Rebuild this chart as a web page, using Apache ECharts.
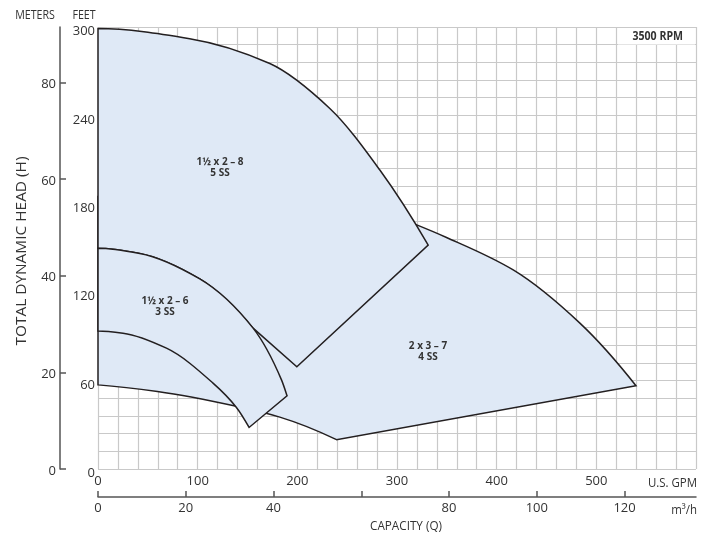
<!DOCTYPE html>
<html>
<head>
<meta charset="utf-8">
<script src="https://cdn.jsdelivr.net/npm/echarts@6/dist/echarts.min.js"></script>
<style>html,body{margin:0;padding:0;background:#fff}#c{width:714px;height:537px}</style>
</head>
<body>
<div id="c"></div>
<script>
// ---- axis ticks ----
const gpmTicks = [0, 100, 200, 300, 400, 500];
const m3hTicks = [0, 20, 40, 60, 80, 100, 120];
const m3hLabels = [0, 20, 40, 80, 100, 120];
const feetTicks = [0, 60, 120, 180, 240, 300];
const meterTicks = [0, 20, 40, 60, 80];

// ---- regions, points in (U.S. GPM, feet) ----
// 2 x 3 - 7, 4 SS
const c_bottom = [[0, 57.1], [59.6, 52.6], [139.9, 42.4], [182.4, 35.2], [239.3, 19.9]];
const c_right = [[539.8, 56.5]];
const c_top = [[539.8, 56.5], [483.5, 99.0], [416.6, 135.1], [349.7, 157.1], [318.5, 166.0]];
const c_hidden = [[250, 180], [0, 185]];

// 1 1/2 x 2 - 8, 5 SS
const a_top = [[0, 298.9], [92.0, 292.1], [172.4, 275.2], [232.6, 244.7], [282.8, 202.9], [331.3, 152.0]];
const a_lower = [[199.5, 69.4], [155.6, 95.6]];
const a_back = [[155.6, 95.6], [102.1, 129.0], [41.9, 146.3], [0, 149.8]];

// 1 1/2 x 2 - 6, 3 SS
const b_outer = [[0, 149.8], [41.9, 146.3], [102.1, 129.0], [155.6, 95.6], [184.1, 60.5], [189.7, 49.7]];
const b_bottom = [[151.6, 28.2]];
const b_inner = [[151.6, 28.2], [138.9, 41.8], [115.4, 58.3], [68.7, 82.0], [25.1, 92.2], [0, 93.7]];

const regionC = [{t: 'curve', p: c_bottom}, {t: 'line', p: c_right}, {t: 'curve', p: c_top}, {t: 'line', p: c_hidden}];
const regionA = [{t: 'curve', p: a_top}, {t: 'line', p: a_lower}, {t: 'curve', p: a_back}];
const regionB = [{t: 'curve', p: b_outer}, {t: 'line', p: b_bottom}, {t: 'curve', p: b_inner}];

const FILL = '#dfe9f6';
const STROKE = '#231f20';
const FONT = "'Open Sans', sans-serif";
const TXT = '#333';

// monotone cubic (in x) bezier path through pixel points
function monotoneBezier(px) {
  const n = px.length;
  if (n < 2) return '';
  const h = [], d = [];
  for (let k = 0; k < n - 1; k++) {
    h.push(px[k + 1][0] - px[k][0]);
    d.push((px[k + 1][1] - px[k][1]) / h[k]);
  }
  const m = new Array(n);
  if (n === 2) { m[0] = m[1] = d[0]; }
  else {
    for (let k = 1; k < n - 1; k++) {
      if (d[k - 1] * d[k] <= 0) m[k] = 0;
      else {
        const w1 = 2 * h[k] + h[k - 1], w2 = h[k] + 2 * h[k - 1];
        m[k] = (w1 + w2) / (w1 / d[k - 1] + w2 / d[k]);
      }
    }
    let m0 = ((2 * h[0] + h[1]) * d[0] - h[0] * d[1]) / (h[0] + h[1]);
    if (m0 * d[0] <= 0) m0 = 0; else if (d[0] * d[1] <= 0 && Math.abs(m0) > Math.abs(3 * d[0])) m0 = 3 * d[0];
    m[0] = m0;
    const a = n - 2, b = n - 3;
    let mn = ((2 * h[a] + h[b]) * d[a] - h[a] * d[b]) / (h[a] + h[b]);
    if (mn * d[a] <= 0) mn = 0; else if (d[a] * d[b] <= 0 && Math.abs(mn) > Math.abs(3 * d[a])) mn = 3 * d[a];
    m[n - 1] = mn;
  }
  let s = '';
  for (let k = 0; k < n - 1; k++) {
    const c1x = px[k][0] + h[k] / 3, c1y = px[k][1] + m[k] * h[k] / 3;
    const c2x = px[k + 1][0] - h[k] / 3, c2y = px[k + 1][1] - m[k + 1] * h[k] / 3;
    s += ' C' + c1x + ' ' + c1y + ' ' + c2x + ' ' + c2y + ' ' + px[k + 1][0] + ' ' + px[k + 1][1];
  }
  return s;
}

function buildPath(segs, api) {
  let d = '';
  let started = false;
  segs.forEach(function (s) {
    const px = s.p.map(function (v) { return api.coord(v); });
    if (!started) { d += 'M' + px[0][0] + ' ' + px[0][1]; started = true; }
    if (s.t === 'line') {
      px.forEach(function (q) { d += ' L' + q[0] + ' ' + q[1]; });
    } else {
      d += ' L' + px[0][0] + ' ' + px[0][1];
      d += monotoneBezier(px);
    }
  });
  return d + ' Z';
}

function regionSeries(name, segs) {
  return {
    type: 'custom', name: name, coordinateSystem: 'cartesian2d', xAxisIndex: 0, yAxisIndex: 0,
    data: [[0, 0]], silent: true, clip: false,
    renderItem: function (params, api) {
      return {
        type: 'path',
        shape: {pathData: buildPath(segs, api)},
        style: {fill: FILL, stroke: STROKE, lineWidth: 1.5, lineJoin: 'miter'}
      };
    }
  };
}

const gridLine = {show: true, lineStyle: {color: '#c9c9c9', width: 1.2}};
const labelStyle = {color: TXT, fontSize: 13, fontFamily: FONT};
const axisDark = {color: '#555', width: 1.5};

function txt(x, y, text, opts) {
  return Object.assign({type: 'text', z: 60, x: x, y: y, style: Object.assign({text: text, fill: TXT, fontSize: 13, fontFamily: FONT, align: 'center', verticalAlign: 'middle'}, opts.style || {})}, opts.el || {});
}

const chart = echarts.init(document.getElementById('c'), null, {renderer: 'canvas'});
chart.setOption({
  animation: false,
  backgroundColor: '#fff',
  grid: {left: 98, top: 27, right: 18, bottom: 68, containLabel: false},
  xAxis: [
    {
      type: 'value', min: 0, max: 600, interval: 100, position: 'bottom',
      axisLine: {show: false, onZero: false}, axisTick: {show: false},
      axisLabel: Object.assign({margin: 6, customValues: gpmTicks}, labelStyle),
      splitLine: gridLine, minorTick: {show: false, splitNumber: 5}, minorSplitLine: gridLine
    },
    {
      type: 'value', min: 0, max: 600 / 4.40287, interval: 20, position: 'bottom', offset: 28,
      axisLine: {show: true, onZero: false, lineStyle: axisDark},
      axisTick: {show: true, inside: true, length: 6, customValues: m3hTicks, lineStyle: axisDark},
      axisLabel: Object.assign({margin: 5, customValues: m3hLabels}, labelStyle),
      splitLine: {show: false}
    }
  ],
  yAxis: [
    {
      type: 'value', min: 0, max: 300, interval: 60, position: 'left',
      axisLine: {show: false, onZero: false}, axisTick: {show: false},
      axisLabel: Object.assign({margin: 3, verticalAlign: 'top', lineHeight: 9, customValues: feetTicks}, labelStyle),
      splitLine: gridLine, minorTick: {show: false, splitNumber: 5}, minorSplitLine: gridLine
    },
    {
      type: 'value', min: 0, max: 300 * 0.3048, interval: 20, position: 'left', offset: 38,
      axisLine: {show: true, onZero: false, lineStyle: axisDark},
      axisTick: {show: true, inside: true, length: 6, customValues: meterTicks, lineStyle: axisDark},
      axisLabel: Object.assign({margin: 4, verticalAlign: 'top', lineHeight: 4, customValues: meterTicks}, labelStyle),
      splitLine: {show: false}
    }
  ],
  series: [
    regionSeries('2 x 3 – 7', regionC),
    regionSeries('1½ x 2 – 8', regionA),
    regionSeries('1½ x 2 – 6', regionB)
  ],
  graphic: [
    {type: 'rect', z: 50, shape: {x: 618, y: 28, width: 77, height: 16.5}, style: {fill: '#fff'}},
    txt(35, 15, 'METERS', {el: {scaleX: 0.82}}),
    txt(84, 15, 'FEET', {el: {scaleX: 0.82}}),
    txt(22, 251, 'TOTAL DYNAMIC HEAD (H)', {style: {fontSize: 14}, el: {rotation: Math.PI / 2, scaleX: 1.1}}),
    txt(697, 483, 'U.S. GPM', {style: {align: 'right'}, el: {scaleX: 0.88}}),
    txt(697, 510, 'm³/h', {style: {align: 'right'}, el: {scaleX: 0.88}}),
    txt(406, 526, 'CAPACITY (Q)', {el: {scaleX: 0.9}}),
    txt(683, 37, '3500 RPM', {style: {align: 'right', fontSize: 11.5, fontWeight: 'bold'}, el: {scaleX: 0.92}}),
    txt(220, 168, '1½ x 2 – 8\n5 SS', {style: {fontSize: 10, lineHeight: 11, fontWeight: 'bold'}}),
    txt(165, 307, '1½ x 2 – 6\n3 SS', {style: {fontSize: 10, lineHeight: 11, fontWeight: 'bold'}}),
    txt(428, 352, '2 x 3 – 7\n4 SS', {style: {fontSize: 10, lineHeight: 11, fontWeight: 'bold'}})
  ]
});
</script>
</body>
</html>
